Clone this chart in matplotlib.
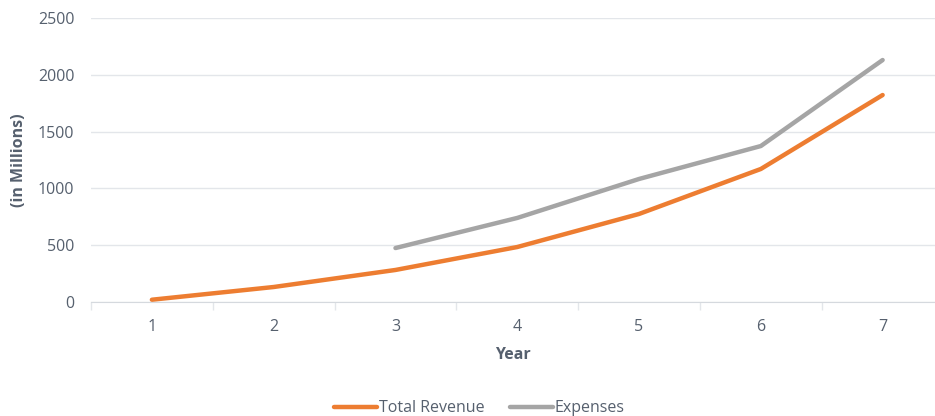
import matplotlib.pyplot as plt
import numpy as np

years = [1, 2, 3, 4, 5, 6, 7]
revenue = [20, 132, 282, 484, 775, 1171, 1822]
expense_years = [3, 4, 5, 6, 7]
expenses = [475, 740, 1083, 1373, 2130]

text_color = '#56606e'
grid_color = '#e3e6ea'

plt.rcParams['font.family'] = ['Open Sans', 'DejaVu Sans']

fig = plt.figure(figsize=(9.35, 4.16), dpi=100)
ax = fig.add_axes([91 / 935, 1 - 302 / 416, 1 - 91 / 935, (302 - 18) / 416])

ax.plot(years, revenue, color='#ED7D31', linewidth=3.2, solid_capstyle='round',
        label='Total Revenue')
ax.plot(expense_years, expenses, color='#A5A5A5', linewidth=3.2, solid_capstyle='round',
        label='Expenses')

ax.set_xlim(0.5, 7.43)
ax.set_ylim(0, 2500)
ax.set_yticks(np.arange(0, 2501, 500))
ax.set_xticks(years)
ax.set_xticks(np.arange(0.5, 7.5, 1), minor=True)
ax.tick_params(axis='x', which='major', length=0, pad=12, labelsize=11.5, labelcolor=text_color)
ax.tick_params(axis='x', which='minor', length=6, color=grid_color, width=1)
ax.tick_params(axis='y', length=0, pad=12, labelsize=11.5, labelcolor=text_color)

ax.grid(axis='y', color=grid_color, linewidth=1)
ax.set_axisbelow(True)
for s in ['top', 'right', 'left']:
    ax.spines[s].set_visible(False)
ax.spines['bottom'].set_color('#d5d9de')

ax.set_xlabel('Year', fontsize=11.5, fontweight='bold', color=text_color, labelpad=9)
ax.set_ylabel('(in Millions)', fontsize=11.5, fontweight='bold', color=text_color, labelpad=8)

fig.legend(loc='lower center', bbox_to_anchor=(0.513, -0.035), ncol=2, frameon=False,
           fontsize=11.5, labelcolor=text_color, handlelength=2.7, handletextpad=0.1,
           columnspacing=1.6)

fig.savefig('out.png', dpi=100)
